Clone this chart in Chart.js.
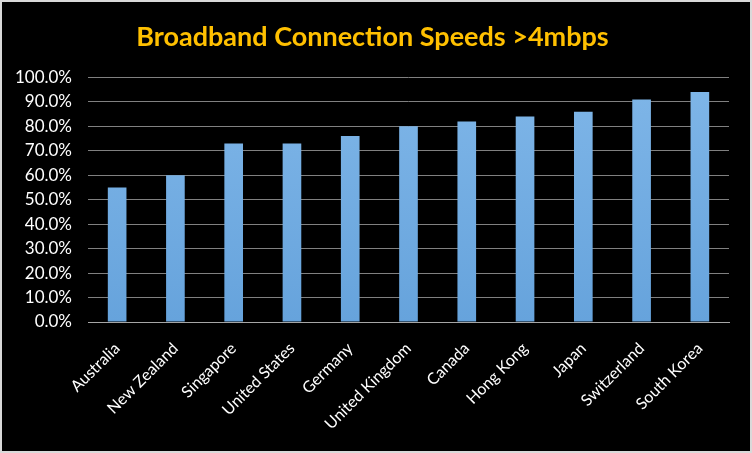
<!DOCTYPE html>
<html>
<head>
<meta charset="utf-8">
<script src="https://cdn.jsdelivr.net/npm/chart.js@4/dist/chart.umd.min.js"></script>
<style>
html,body{margin:0;padding:0;background:#d9d9d9;width:752px;height:453px;overflow:hidden;}
#wrap{position:absolute;left:2px;top:2px;width:748px;height:449px;background:#000;}
</style>
</head>
<body>
<div id="wrap"><canvas id="c" width="748" height="449"></canvas></div>
<script>
const categories = ["Australia","New Zealand","Singapore","United States","Germany","United Kingdom","Canada","Hong Kong","Japan","Switzerland","South Korea"];
const speedShare = [55, 60, 73, 73, 76, 80, 82, 84, 86, 91, 94];
const yTicks = [0,10,20,30,40,50,60,70,80,90,100];
const titleText = "Broadband Connection Speeds >4mbps";

const ctx = document.getElementById('c').getContext('2d');
function barGradient(context){
  const chart = context.chart;
  const area = chart.chartArea;
  if(!area) return '#6fa8dc';
  const g = chart.ctx.createLinearGradient(0, area.top, 0, area.bottom);
  g.addColorStop(0, '#7fb6e8');
  g.addColorStop(1, '#66a3dc');
  return g;
}
new Chart(ctx, {
  type: 'bar',
  data: {
    labels: categories,
    datasets: [{
      data: speedShare,
      backgroundColor: barGradient,
      borderWidth: 0,
      categoryPercentage: 1.0,
      barPercentage: 0.32
    }]
  },
  options: {
    responsive: false,
    animation: false,
    layout: {padding: {left: 14, right: 21, top: 0, bottom: 0}},
    plugins: {
      legend: {display: false},
      tooltip: {enabled: false},
      title: {
        display: true,
        text: titleText,
        color: '#ffc000',
        font: {family: 'Lato', size: 27, weight: 'bold'},
        padding: {top: 19, bottom: 24}
      }
    },
    scales: {
      x: {
        grid: {display: false, drawTicks: false},
        border: {display: true, color: '#a6a6a6', width: 1},
        ticks: {
          color: '#ffffff',
          font: {family: 'Lato', size: 16},
          minRotation: 45, maxRotation: 45,
          padding: 17,
          autoSkip: false
        },
        afterFit: function(s){ s.height = 129; }
      },
      y: {
        min: 0, max: 100,
        afterBuildTicks: function(s){ s.ticks = yTicks.map(v => ({value: v})); },
        grid: {color: '#808080', lineWidth: 1, drawTicks: false},
        border: {display: false},
        ticks: {
          color: '#ffffff',
          font: {family: 'Lato', size: 17},
          padding: 16,
          callback: v => v.toFixed(1) + '%'
        },
        afterFit: function(s){ s.width = 72; }
      }
    }
  }
});
</script>
</body>
</html>
